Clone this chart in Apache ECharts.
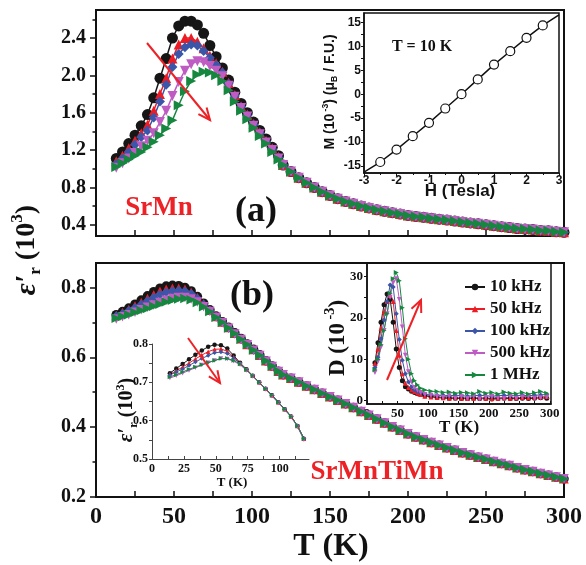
<!DOCTYPE html>
<html>
<head>
<meta charset="utf-8">
<script src="https://cdn.jsdelivr.net/npm/echarts@6/dist/echarts.min.js"></script>
<style>
html, body { margin: 0; padding: 0; background: #fff; }
#chart { width: 586px; height: 565px; }
</style>
</head>
<body>
<div id="chart"></div>
<script>
var SERIF = '"Liberation Serif", "Times New Roman", serif';
var SANS = '"Liberation Sans", Arial, sans-serif';

// frequencies (same order in every panel)
var freqNames = ['10 kHz', '50 kHz', '100 kHz', '500 kHz', '1 MHz'];
var colors = ['#161616', '#ed1c24', '#3b55a8', '#bf5cc4', '#16873f'];
var symbols = ['circle', 'triangle', 'diamond', 'triangle', 'triangle'];
var rotations = [0, 0, 0, 180, -90];

// temperatures for the main panels
var tLow = [13, 17, 21, 25, 29, 33, 37, 41, 45, 49, 53, 57, 61, 65, 69, 73, 77, 81, 85, 89, 93, 97, 101, 105, 109, 113, 117];
var tTail = [120, 125, 130, 135, 140, 145, 150, 155, 160, 165, 170, 175, 180, 185, 190, 195, 200, 205, 210, 215,
    220, 225, 230, 235, 240, 245, 250, 255, 260, 265, 270, 275, 280, 285, 290, 295, 300];

// (a) SrMn, eps' (10^3)
var aBlack = [1.11, 1.18, 1.27, 1.36, 1.46, 1.58, 1.76, 1.97, 2.18, 2.40, 2.53, 2.58, 2.58, 2.54, 2.45, 2.32, 2.20, 2.08, 1.95, 1.82, 1.70, 1.60, 1.50, 1.41, 1.32, 1.23, 1.14];
var aRed = [1.08, 1.14, 1.22, 1.30, 1.38, 1.47, 1.62, 1.80, 1.97, 2.18, 2.33, 2.40, 2.40, 2.36, 2.29, 2.21, 2.13, 2.04, 1.92, 1.79, 1.67, 1.58, 1.48, 1.39, 1.30, 1.22, 1.13];
var aBlue = [1.05, 1.11, 1.18, 1.26, 1.34, 1.41, 1.55, 1.72, 1.90, 2.09, 2.23, 2.30, 2.33, 2.32, 2.26, 2.19, 2.11, 2.03, 1.91, 1.78, 1.66, 1.57, 1.47, 1.38, 1.29, 1.21, 1.12];
var aMagenta = [1.01, 1.06, 1.11, 1.17, 1.24, 1.30, 1.38, 1.50, 1.62, 1.78, 1.93, 2.05, 2.12, 2.15, 2.14, 2.10, 2.05, 1.99, 1.89, 1.77, 1.65, 1.56, 1.46, 1.37, 1.28, 1.20, 1.11];
var aGreen = [1.02, 1.06, 1.10, 1.14, 1.18, 1.23, 1.29, 1.36, 1.43, 1.52, 1.68, 1.83, 1.94, 2.01, 2.04, 2.03, 2.00, 1.94, 1.84, 1.72, 1.62, 1.53, 1.44, 1.35, 1.27, 1.18, 1.10];
var aTail = [1.04, 0.97, 0.905, 0.85, 0.80, 0.755, 0.715, 0.68, 0.65, 0.625, 0.60, 0.58, 0.56, 0.545, 0.53, 0.515, 0.50, 0.49, 0.48, 0.47,
    0.46, 0.45, 0.44, 0.43, 0.42, 0.41, 0.40, 0.39, 0.38, 0.37, 0.36, 0.355, 0.35, 0.34, 0.335, 0.325, 0.32];

// (b) SrMnTiMn, eps' (10^3)
var bBlack = [0.722, 0.731, 0.741, 0.752, 0.764, 0.776, 0.788, 0.798, 0.804, 0.806, 0.805, 0.800, 0.790, 0.774, 0.755, 0.736, 0.718, 0.702, 0.686, 0.670, 0.654, 0.638, 0.623, 0.607, 0.590, 0.575, 0.560];
var bRed = [0.720, 0.728, 0.737, 0.747, 0.757, 0.768, 0.779, 0.789, 0.795, 0.798, 0.798, 0.795, 0.786, 0.771, 0.753, 0.735, 0.717, 0.701, 0.685, 0.669, 0.653, 0.637, 0.622, 0.606, 0.590, 0.575, 0.560];
var bBlue = [0.718, 0.725, 0.733, 0.742, 0.751, 0.761, 0.771, 0.780, 0.786, 0.790, 0.791, 0.789, 0.782, 0.768, 0.751, 0.734, 0.716, 0.700, 0.684, 0.668, 0.652, 0.637, 0.621, 0.606, 0.590, 0.575, 0.560];
var bMagenta = [0.710, 0.716, 0.722, 0.729, 0.736, 0.743, 0.750, 0.757, 0.763, 0.768, 0.771, 0.771, 0.767, 0.758, 0.745, 0.731, 0.715, 0.699, 0.683, 0.667, 0.651, 0.636, 0.620, 0.605, 0.589, 0.574, 0.559];
var bGreen = [0.712, 0.717, 0.722, 0.728, 0.734, 0.740, 0.746, 0.752, 0.758, 0.763, 0.767, 0.768, 0.765, 0.757, 0.745, 0.731, 0.715, 0.700, 0.684, 0.668, 0.652, 0.637, 0.621, 0.606, 0.590, 0.575, 0.560];
var bTail = [0.550, 0.540, 0.529, 0.518, 0.508, 0.497, 0.487, 0.477, 0.467, 0.456, 0.445, 0.434, 0.423, 0.412, 0.401, 0.391, 0.381, 0.372, 0.364, 0.356,
    0.348, 0.341, 0.334, 0.327, 0.320, 0.314, 0.308, 0.302, 0.296, 0.290, 0.284, 0.278, 0.273, 0.267, 0.262, 0.257, 0.252];

// inset of (b): eps' at low T
var tIns = [14, 19, 24, 29, 34, 39, 44, 49, 54, 59, 64, 69, 74, 79, 84, 89, 94, 99, 104, 109, 114, 119];
var insBlack = [0.724, 0.736, 0.748, 0.760, 0.772, 0.783, 0.793, 0.798, 0.797, 0.788, 0.770, 0.751, 0.734, 0.717, 0.700, 0.683, 0.666, 0.648, 0.630, 0.611, 0.586, 0.553];
var insRed = [0.721, 0.730, 0.740, 0.750, 0.761, 0.771, 0.780, 0.786, 0.787, 0.781, 0.766, 0.750, 0.734, 0.717, 0.700, 0.683, 0.666, 0.648, 0.630, 0.611, 0.586, 0.553];
var insBlue = [0.719, 0.727, 0.735, 0.744, 0.753, 0.762, 0.770, 0.777, 0.779, 0.775, 0.763, 0.749, 0.733, 0.717, 0.700, 0.683, 0.666, 0.648, 0.630, 0.611, 0.586, 0.553];
var insMagenta = [0.711, 0.717, 0.724, 0.731, 0.738, 0.745, 0.751, 0.757, 0.762, 0.761, 0.755, 0.746, 0.731, 0.715, 0.698, 0.681, 0.664, 0.646, 0.628, 0.609, 0.584, 0.550];
var insGreen = [0.714, 0.720, 0.727, 0.734, 0.740, 0.746, 0.752, 0.757, 0.762, 0.762, 0.757, 0.748, 0.733, 0.717, 0.700, 0.683, 0.666, 0.648, 0.630, 0.611, 0.586, 0.553];

// inset of (b): loss D (10^-3)
var tD = [13, 18, 23, 28, 33, 38, 43, 48, 53, 58, 63, 68, 73, 78, 83, 88,
    95, 105, 115, 125, 135, 145, 155, 165, 175, 185, 195, 205, 215, 225, 235, 245, 255, 265, 275, 285, 295];
var dBlack = [9.2, 14.0, 19.0, 23.2, 25.8, 24.5, 19.0, 12.5, 8.0, 4.8, 3.4, 2.8, 2.3, 2.0, 1.7, 1.5,
    1.2, 1.0, 0.8, 0.7, 0.6, 0.6, 0.5, 0.5, 0.6, 0.5, 0.5, 0.4, 0.5, 0.6, 0.5, 0.5, 0.6, 0.5, 0.6, 0.7, 0.6];
var dRed = [9.0, 12.5, 17.5, 21.5, 24.0, 25.5, 24.0, 17.0, 11.0, 6.5, 4.2, 3.2, 2.6, 2.2, 1.8, 1.5,
    1.1, 0.9, 0.8, 0.7, 0.6, 0.7, 0.6, 0.5, 0.6, 0.7, 0.6, 0.5, 0.6, 0.7, 0.6, 0.7, 0.8, 0.7, 0.8, 0.9, 1.0];
var dBlue = [8.0, 10.5, 15.0, 19.5, 24.0, 28.0, 27.5, 21.0, 14.8, 9.8, 6.5, 4.5, 3.3, 2.6, 2.2, 1.9,
    1.6, 1.4, 1.3, 1.3, 1.2, 1.3, 1.2, 1.1, 1.2, 1.3, 1.2, 1.1, 1.2, 1.3, 1.2, 1.2, 1.3, 1.2, 1.3, 1.4, 1.5];
var dMagenta = [6.8, 9.5, 13.0, 17.0, 21.0, 25.0, 28.5, 29.5, 24.5, 17.8, 11.0, 7.0, 4.5, 3.2, 2.5, 2.0,
    1.5, 1.3, 1.0, 0.8, 1.2, 0.6, 1.0, 0.5, 1.1, 0.4, 0.8, 1.0, 0.6, 0.5, 1.0, 0.6, 0.9, 1.1, 0.6, 0.7, 0.9];
var dGreen = [7.5, 10.0, 13.5, 17.0, 21.0, 26.0, 29.5, 31.0, 29.0, 22.5, 15.0, 10.0, 6.5, 4.8, 3.8, 3.0,
    2.6, 2.3, 2.2, 2.0, 2.1, 1.8, 2.0, 1.9, 1.7, 2.2, 1.8, 2.0, 1.6, 2.1, 1.8, 1.7, 2.0, 1.6, 1.9, 2.2, 1.8];

// inset of (a): M vs H at 10 K
var hField = [-3, -2.5, -2, -1.5, -1, -0.5, 0, 0.5, 1, 1.5, 2, 2.5, 3];
var mMoment = [-16.3, -14.2, -11.6, -8.8, -6.0, -3.0, 0, 3.1, 6.2, 9.0, 11.8, 14.4, 16.6];

// tick values
var aTicks = [0.4, 0.8, 1.2, 1.6, 2.0, 2.4];
var aMinor = [0.6, 1.0, 1.4, 1.8, 2.2, 2.6];
var bTicks = [0.2, 0.4, 0.6, 0.8];
var bMinor = [0.3, 0.5, 0.7];
var tTicks = [0, 50, 100, 150, 200, 250, 300];
var mTicks = [-15, -10, -5, 0, 5, 10, 15];
var insTicks = [0.5, 0.6, 0.7, 0.8];
var insTTicks = [0, 25, 50, 75, 100];
var dTicks = [0, 10, 20, 30];

function pairs(ts, vs) {
    return vs.map(function (v, i) { return [ts[i], v]; });
}

function joined(low, tail) {
    return pairs(tLow, low).concat(pairs(tTail, tail));
}

function curve(k, data, gi, size, lw) {
    return {
        name: freqNames[k],
        type: 'line',
        xAxisIndex: gi,
        yAxisIndex: gi,
        data: data,
        symbol: symbols[k],
        symbolRotate: rotations[k],
        symbolSize: size,
        itemStyle: {color: colors[k]},
        lineStyle: {color: colors[k], width: lw},
        silent: true
    };
}

var chart = echarts.init(document.getElementById('chart'));

var tickStyle = {color: '#111', width: 1.5};

function line(color, width) {
    return {show: true, onZero: false, lineStyle: {color: color, width: width}};
}

function labelStyle(size, family, values, fmt, margin) {
    return {
        customValues: values,
        formatter: fmt,
        fontFamily: family,
        fontWeight: 'bold',
        fontSize: size,
        color: '#111',
        margin: margin
    };
}

var fmt1 = function (v) { return v.toFixed(1); };
var fmt0 = function (v) { return String(Math.round(v)); };

var xAxes = [
    {gridIndex: 0, type: 'value', min: 0, max: 300, interval: 25,
        axisLine: line('#111', 2), axisTick: {inside: true, length: 6, lineStyle: tickStyle},
        axisLabel: {show: false}, splitLine: {show: false}},
    {gridIndex: 1, type: 'value', min: 0, max: 300, interval: 25,
        axisLine: line('#111', 2), axisTick: {inside: true, length: 6, lineStyle: tickStyle},
        axisLabel: labelStyle(24, SERIF, tTicks, fmt0, 8), splitLine: {show: false}},
    {gridIndex: 2, type: 'value', min: -3, max: 3, interval: 1,
        axisLine: line('#111', 1.5), axisTick: {length: 3, lineStyle: {color: '#111', width: 1}},
        minorTick: {show: true, splitNumber: 2, length: 2, lineStyle: {color: '#111'}},
        axisLabel: {fontFamily: SANS, fontWeight: 'bold', fontSize: 12, color: '#111', margin: 2}, splitLine: {show: false}},
    {gridIndex: 3, type: 'value', min: 0, max: 123,
        axisLine: line('#444', 1),
        axisTick: {inside: true, length: 3, customValues: [0, 12.5, 25, 37.5, 50, 62.5, 75, 87.5, 100, 112.5], lineStyle: {color: '#444'}},
        axisLabel: labelStyle(12, SERIF, insTTicks, fmt0, 4), splitLine: {show: false}},
    {gridIndex: 4, type: 'value', min: 0, max: 302,
        axisLine: line('#111', 1.5),
        axisTick: {inside: true, length: 3, customValues: [0, 25, 50, 75, 100, 125, 150, 175, 200, 225, 250, 275, 300], lineStyle: {color: '#111'}},
        axisLabel: labelStyle(13, SERIF, tTicks, fmt0, 3), splitLine: {show: false}}
];

var yAxes = [
    {gridIndex: 0, type: 'value', min: 0.28, max: 2.7, position: 'left',
        axisLine: line('#111', 2),
        axisTick: {length: 6, customValues: aTicks, lineStyle: tickStyle},
        axisLabel: labelStyle(20, SERIF, aTicks, fmt1, 10), splitLine: {show: false}},
    {gridIndex: 1, type: 'value', min: 0.2, max: 0.87, position: 'left',
        axisLine: line('#111', 2),
        axisTick: {length: 6, customValues: bTicks, lineStyle: tickStyle},
        axisLabel: labelStyle(20, SERIF, bTicks, fmt1, 10), splitLine: {show: false}},
    {gridIndex: 2, type: 'value', min: -16.5, max: 17, position: 'left',
        axisLine: line('#111', 1.5),
        axisTick: {length: 3, customValues: [-15, -12.5, -10, -7.5, -5, -2.5, 0, 2.5, 5, 7.5, 10, 12.5, 15], lineStyle: {color: '#111'}},
        axisLabel: labelStyle(12, SANS, mTicks, fmt0, 3), splitLine: {show: false}},
    {gridIndex: 3, type: 'value', min: 0.5, max: 0.8, position: 'left',
        axisLine: line('#444', 1),
        axisTick: {length: 3, customValues: [0.5, 0.55, 0.6, 0.65, 0.7, 0.75, 0.8], lineStyle: {color: '#444'}},
        axisLabel: labelStyle(12, SERIF, insTicks, fmt1, 4), splitLine: {show: false}},
    {gridIndex: 4, type: 'value', min: -0.8, max: 33.3, position: 'left',
        axisLine: line('#111', 1.5),
        axisTick: {length: 3, customValues: [0, 5, 10, 15, 20, 25, 30], lineStyle: {color: '#111'}},
        axisLabel: labelStyle(13, SERIF, dTicks, fmt0, 4), splitLine: {show: false}},
    // minor ticks of the two main panels
    {gridIndex: 0, type: 'value', min: 0.28, max: 2.7, position: 'left', offset: 0,
        axisLine: {show: false}, axisTick: {length: 3.5, customValues: aMinor, lineStyle: tickStyle},
        axisLabel: {show: false}, splitLine: {show: false}},
    {gridIndex: 1, type: 'value', min: 0.2, max: 0.87, position: 'left', offset: 0,
        axisLine: {show: false}, axisTick: {length: 3.5, customValues: bMinor, lineStyle: tickStyle},
        axisLabel: {show: false}, splitLine: {show: false}}
];

var series = [];
// D inset first so the legend takes its look
[dBlack, dRed, dBlue, dMagenta, dGreen].forEach(function (vs, k) {
    series.push(curve(k, pairs(tD, vs), 4, 5, 1));
});
[[aBlack, aRed, aBlue, aMagenta, aGreen], [bBlack, bRed, bBlue, bMagenta, bGreen]].forEach(function (set, gi) {
    var tail = gi === 0 ? aTail : bTail;
    set.forEach(function (low, k) {
        series.push(curve(k, joined(low, tail), gi, gi === 0 ? (k === 0 ? 11 : 10) : 9.5, 1.5));
    });
});
[insBlack, insRed, insBlue, insMagenta, insGreen].forEach(function (vs, k) {
    series.push(curve(k, pairs(tIns, vs), 3, 4.5, 1));
});
series.push({
    type: 'line',
    xAxisIndex: 2,
    yAxisIndex: 2,
    data: hField.map(function (h, i) {
        var end = i === 0 || i === hField.length - 1;
        return end ? {value: [h, mMoment[i]], symbol: 'none'} : [h, mMoment[i]];
    }),
    symbol: 'circle',
    symbolSize: 9,
    itemStyle: {color: '#fff', borderColor: '#111', borderWidth: 1.2},
    lineStyle: {color: '#111', width: 1.5},
    silent: true,
    z: 5
});

function txt(x, y, text, size, family, color) {
    return {
        type: 'text', x: x, y: y, silent: true, z: 100,
        style: {text: text, fill: color || '#111', fontSize: size, fontFamily: family, fontWeight: 'bold',
            textAlign: 'center', textVerticalAlign: 'middle'}
    };
}

function richTitle(x, y, text, size, family, italicE) {
    var base = {fontSize: size, fontFamily: family, fontWeight: 'bold', fill: '#111', lineHeight: size * 1.25};
    var small = {fontSize: size * 0.62, fontFamily: family, fontWeight: 'bold', fill: '#111', lineHeight: size * 0.62};
    return {
        type: 'text', x: x, y: y, rotation: Math.PI / 2, silent: true, z: 100,
        style: {
            text: text, fill: '#111', fontSize: size, fontFamily: family, fontWeight: 'bold',
            textAlign: 'center', textVerticalAlign: 'middle',
            rich: {
                n: base,
                e: {fontSize: size * 1.05, fontFamily: family, fontWeight: 'bold', fontStyle: italicE ? 'italic' : 'normal', fill: '#111', lineHeight: size * 1.25},
                s: Object.assign({verticalAlign: 'bottom'}, small),
                p: Object.assign({verticalAlign: 'top'}, small)
            }
        }
    };
}

function arrow(x1, y1, x2, y2) {
    var ang = Math.atan2(y2 - y1, x2 - x1);
    var len = 13, spread = 0.42;
    var head = [
        [x2 - len * Math.cos(ang - spread), y2 - len * Math.sin(ang - spread)],
        [x2, y2],
        [x2 - len * Math.cos(ang + spread), y2 - len * Math.sin(ang + spread)]
    ];
    var st = {stroke: '#ec2227', lineWidth: 2, fill: null};
    return [
        {type: 'line', silent: true, z: 100, shape: {x1: x1, y1: y1, x2: x2, y2: y2}, style: st},
        {type: 'polyline', silent: true, z: 100, shape: {points: head}, style: st}
    ];
}

var graphics = [
    txt(159, 208, 'SrMn', 27, SERIF, '#ec2227'),
    txt(256, 212, '(a)', 36, SERIF),
    txt(252, 296, '(b)', 36, SERIF),
    txt(377, 472, 'SrMnTiMn', 27, SERIF, '#ec2227'),
    txt(422, 47, 'T = 10 K', 16, SERIF),
    txt(331, 547, 'T (K)', 32, SERIF),
    txt(460, 191, 'H (Tesla)', 17, SANS),
    txt(232, 483, 'T (K)', 13, SERIF),
    txt(459, 428, 'T (K)', 17, SERIF),
    richTitle(27, 250, '{e|ε′}{s|r}{n| (10}{p|3}{n|)}', 28, SERIF, true),
    richTitle(127, 410, '{e|ε′}{s|r}{n| (10}{p|3}{n|)}', 20, SERIF, true),
    richTitle(338, 338, '{n|D (10}{p| -3}{n|)}', 23, SERIF, false),
    richTitle(330, 92, '{n|M (10}{p| -3}{n|) (μ}{s|B}{n| / F.U.)}', 14, SANS, false)
].concat(arrow(147, 43, 210, 120), arrow(188, 338, 220, 383), arrow(387, 380, 421, 300));

var option = {
    animation: false,
    backgroundColor: '#fff',
    grid: [
        {left: 96, top: 10, width: 468, height: 226, show: true, borderColor: '#111', borderWidth: 2},
        {left: 96, top: 263, width: 468, height: 234, show: true, borderColor: '#111', borderWidth: 2},
        {left: 364, top: 13, width: 195, height: 160, show: true, borderColor: '#111', borderWidth: 1.5, backgroundColor: '#fff'},
        {left: 152, top: 344, width: 157, height: 115},
        {left: 367, top: 263, width: 184, height: 141, show: true, borderColor: '#111', borderWidth: 1.5}
    ],
    xAxis: xAxes,
    yAxis: yAxes,
    legend: {
        data: freqNames,
        orient: 'vertical',
        left: 459,
        top: 273,
        itemWidth: 20,
        itemHeight: 8,
        itemGap: 4,
        selectedMode: false,
        textStyle: {fontFamily: SERIF, fontWeight: 'bold', fontSize: 17, color: '#111', lineHeight: 18}
    },
    series: series,
    graphic: graphics
};

chart.setOption(option);
</script>
</body>
</html>
